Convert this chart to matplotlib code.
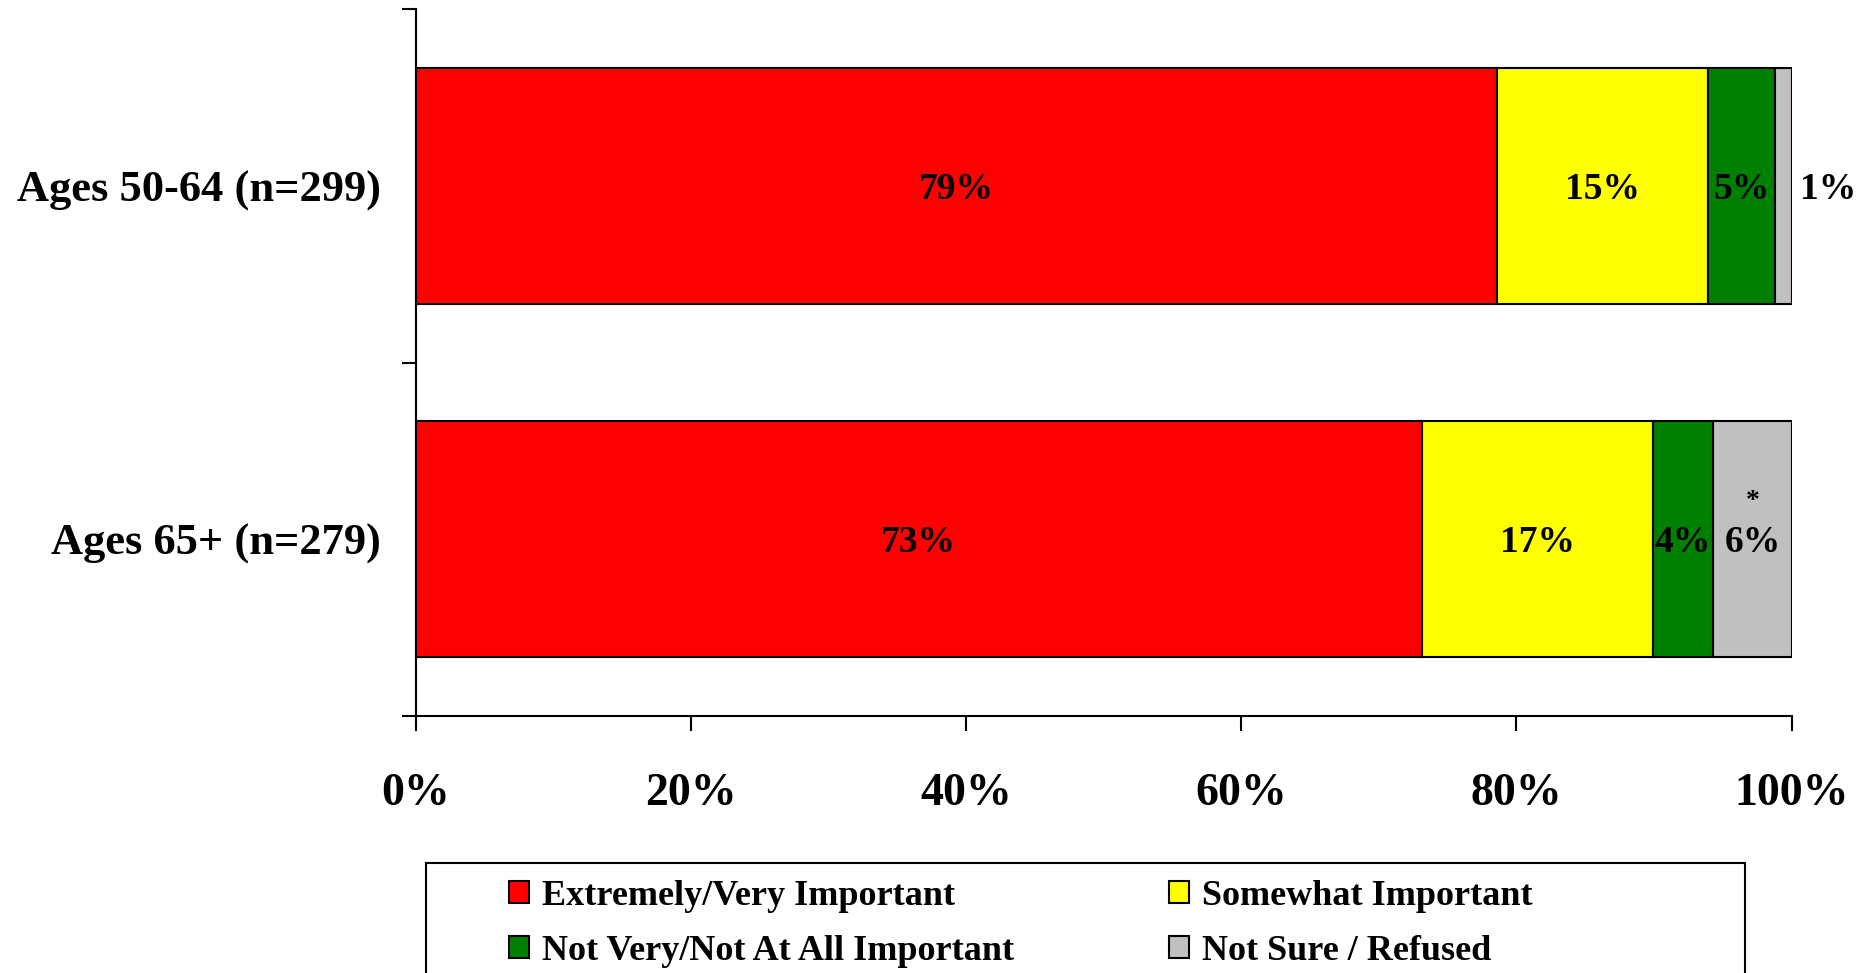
import matplotlib
matplotlib.use('Agg')
import matplotlib.pyplot as plt
import numpy as np
from matplotlib.patches import Rectangle

categories = ["Ages 50-64 (n=299)", "Ages 65+ (n=279)"]
series_names = ["Extremely/Very Important", "Somewhat Important",
                "Not Very/Not At All Important", "Not Sure / Refused"]
extremely = [78.6, 73.1]
somewhat = [15.3, 16.8]
not_very = [4.9, 4.4]
not_sure = [1.2, 5.7]
colors = ["#FF0000", "#FFFF00", "#008000", "#C0C0C0"]
x_ticks = [0, 20, 40, 60, 80, 100]
x_tick_labels = ["0%", "20%", "40%", "60%", "80%", "100%"]

plt.rcParams['font.family'] = ['Liberation Serif', 'DejaVu Serif']
plt.rcParams['font.weight'] = 'bold'

W, H = 1869, 973
fig = plt.figure(figsize=(W / 100, H / 100), dpi=100)
ax = fig.add_axes([416 / W, 1 - 716 / H, (1791.6 - 416) / W, (716 - 9) / H])

series = [extremely, somewhat, not_very, not_sure]
y = np.arange(len(categories)) + 0.5
left = np.zeros(len(categories))
handles = []
for si, (name, vals, col) in enumerate(zip(series_names, series, colors)):
    vals = np.array(vals, dtype=float)
    bars = ax.barh(y, vals, left=left, height=0.667, color=col,
                   edgecolor='black', linewidth=1.5, label=name)
    handles.append(bars)
    for ci, (yi, l, v) in enumerate(zip(y, left, vals)):
        txt = f"{round(v)}%"
        if v >= 3:
            ax.text(l + v / 2, yi + 0.01, txt, ha='center', va='center',
                    fontsize=27, fontweight='bold', color='black')
        else:
            ax.annotate(txt, xy=(l + v, yi + 0.01), xytext=(6, 0),
                        textcoords='offset points', ha='left', va='center',
                        fontsize=27, fontweight='bold', color='black')
        if si == 3 and ci == 1:
            ax.annotate("*", xy=(l + v / 2, yi), xytext=(0, 27),
                        textcoords='offset points', ha='center', va='center',
                        fontsize=20, fontweight='bold', color='black')
    left += vals

ax.set_xlim(0, 100)
ax.set_ylim(len(categories), 0)
ax.set_xticks(x_ticks)
ax.set_xticklabels(x_tick_labels, fontsize=33, fontweight='bold')
ax.set_yticks(np.arange(len(categories) + 1))
ax.set_yticklabels([])
ax.set_yticks(y, minor=True)
ax.set_yticklabels(categories, minor=True, fontsize=32, fontweight='bold')
ax.tick_params(axis='y', which='major', length=10, width=1.5, direction='out')
ax.tick_params(axis='y', which='minor', length=0, pad=25)
ax.tick_params(axis='x', which='major', length=11, width=1.5, direction='out', pad=30)
for s in ['top', 'right']:
    ax.spines[s].set_visible(False)
for s in ['left', 'bottom']:
    ax.spines[s].set_linewidth(1.5)

# legend fills column-wise; order so rows read: Extremely, Somewhat / Not Very, Not Sure
order = [0, 2, 1, 3]
leg = fig.legend([handles[i] for i in order], [series_names[i] for i in order],
                 ncol=2, loc='upper left',
                 bbox_to_anchor=(509 / W, 1 - 880 / H), frameon=False,
                 fontsize=26, handlelength=0.55, handleheight=0.55,
                 handletextpad=0.36, columnspacing=4.3, borderpad=0,
                 labelspacing=0.6, borderaxespad=0)
for t in leg.get_texts():
    t.set_fontweight('bold')

frame = Rectangle((426 / W, -0.2), (1745 - 426) / W, 0.2 + (1 - 863 / H),
                  transform=fig.transFigure, fill=False, edgecolor='black',
                  linewidth=1.5, clip_on=False)
fig.add_artist(frame)

fig.savefig("out.png", dpi=100)
